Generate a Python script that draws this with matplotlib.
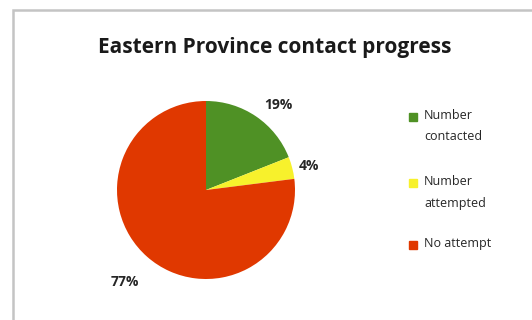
import matplotlib
matplotlib.use("Agg")
import matplotlib.pyplot as plt
from matplotlib.patches import Rectangle
import numpy as np

categories = ["Number\ncontacted", "Number\nattempted", "No attempt"]
shares = [19, 4, 77]
colors = ["#4f9125", "#f7f12c", "#e03800"]
title = "Eastern Province contact progress"

W, H = 532, 320
fig = plt.figure(figsize=(W / 100, H / 100), dpi=100)
plt.rcParams["font.family"] = ["Open Sans", "DejaVu Sans"]

# chart-area frame
fig.patches.append(Rectangle((13 / W, -0.05), 1.2, (310 / H) + 0.05,
                             transform=fig.transFigure, fill=False,
                             edgecolor="#c4c4c4", linewidth=1.8))

fig.text(275 / W, 1 - 47 / H, title, ha="center", va="center",
         fontsize=15, fontweight="bold", color="#1a1a1a")

# pie axes: centre (206, 190) px, radius 89 px
cx, cy, r = 206, 190, 89
ax = fig.add_axes([(cx - r) / W, (H - cy - r) / H, 2 * r / W, 2 * r / H])
wedges, texts, autotexts = ax.pie(
    shares, colors=colors, startangle=90, counterclock=False,
    radius=1.0, autopct="%d%%", pctdistance=1.2,
    textprops=dict(fontsize=10, fontweight="bold", color="#262626"),
    wedgeprops=dict(linewidth=0))
ax.set_xlim(-1, 1)
ax.set_ylim(-1, 1)
ax.set_aspect("equal")
ax.axis("off")

# radial offset and alignment for each percentage label
label_dist = [1.16, 1.08, 1.38]
label_ha = ["left", "left", "center"]
angle = 90.0
for t, s, d, ha in zip(autotexts, shares, label_dist, label_ha):
    mid = np.deg2rad(angle - s * 3.6 / 2)
    t.set_position((d * np.cos(mid), d * np.sin(mid)))
    t.set_ha(ha)
    angle -= s * 3.6

# legend drawn as squares and labels
legend_y = [117, 183, 245]
for lab, col, y in zip(categories, colors, legend_y):
    fig.patches.append(Rectangle((409 / W, 1 - (y + 4) / H), 8 / W, 8 / H,
                                 transform=fig.transFigure, color=col))
    fig.text(424 / W, 1 - (y - 8) / H, lab, ha="left", va="top",
             fontsize=9, color="#262626", linespacing=1.85)

fig.savefig("out.png", dpi=100)
